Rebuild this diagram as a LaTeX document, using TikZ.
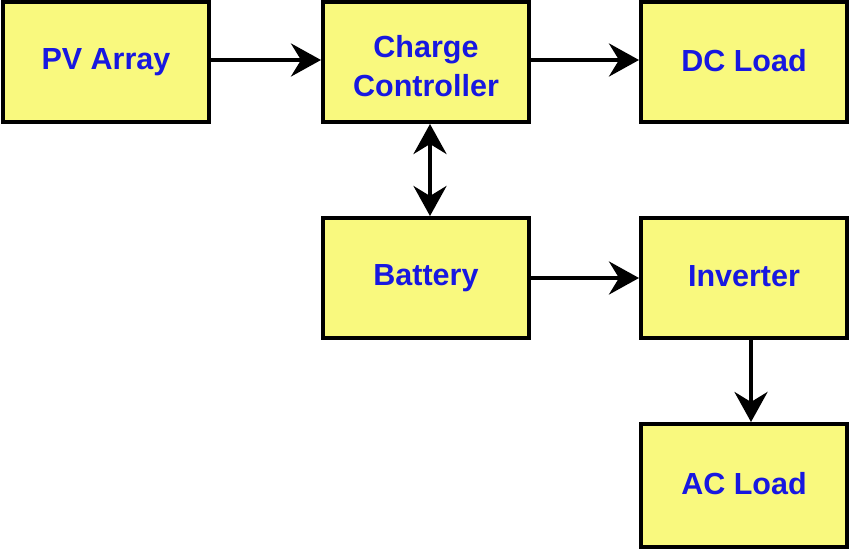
\documentclass[tikz,border=0pt]{standalone}
\usepackage{fontspec}
\setmainfont{Liberation Sans}
\usetikzlibrary{arrows.meta}
\definecolor{boxfill}{HTML}{F9F97E}
\definecolor{txtblue}{HTML}{1818E0}
\tikzset{
  blockbox/.style={draw=black, line width=4bp, fill=boxfill, minimum width=206bp, minimum height=120bp,
    inner sep=0pt, align=center, font=\fontsize{30.5bp}{38bp}\selectfont\bfseries, text=txtblue},
  conn/.style={line width=4bp, -{Stealth[length=30bp,width=33bp,inset=10bp]}},
  bconn/.style={line width=4bp, {Stealth[length=30bp,width=33bp,inset=10bp]}-{Stealth[length=30bp,width=33bp,inset=10bp]}}
}
\begin{document}
\begin{tikzpicture}[x=1bp,y=-1bp]
\useasboundingbox (0,0) rectangle (850,550);
\node[blockbox] (pv) at (106,62) {\raisebox{4bp}{PV Array}};
\node[blockbox] (cc) at (426,62) {\raisebox{-4bp}[\height][0pt]{\shortstack{Charge\\[8bp]Controller}}};
\node[blockbox] (dc) at (744,62) {\raisebox{3bp}{DC Load}};
\node[blockbox] (bat) at (426,278) {\raisebox{4bp}{Battery}};
\node[blockbox] (inv) at (744,278) {\raisebox{4bp}{Inverter}};
\node[blockbox, minimum height=123bp] (ac) at (744,485.5) {\raisebox{4bp}{AC Load}};
\draw[conn] ([yshift=2bp]pv.east) -- ([yshift=2bp]cc.west);
\draw[conn] ([yshift=2bp]cc.east) -- ([yshift=2bp]dc.west);
\draw[bconn] ([xshift=4bp]cc.south) -- ([xshift=4bp]bat.north);
\draw[conn] (bat.east) -- (inv.west);
\draw[conn] ([xshift=7bp]inv.south) -- ([xshift=7bp]ac.north);
\end{tikzpicture}
\end{document}
